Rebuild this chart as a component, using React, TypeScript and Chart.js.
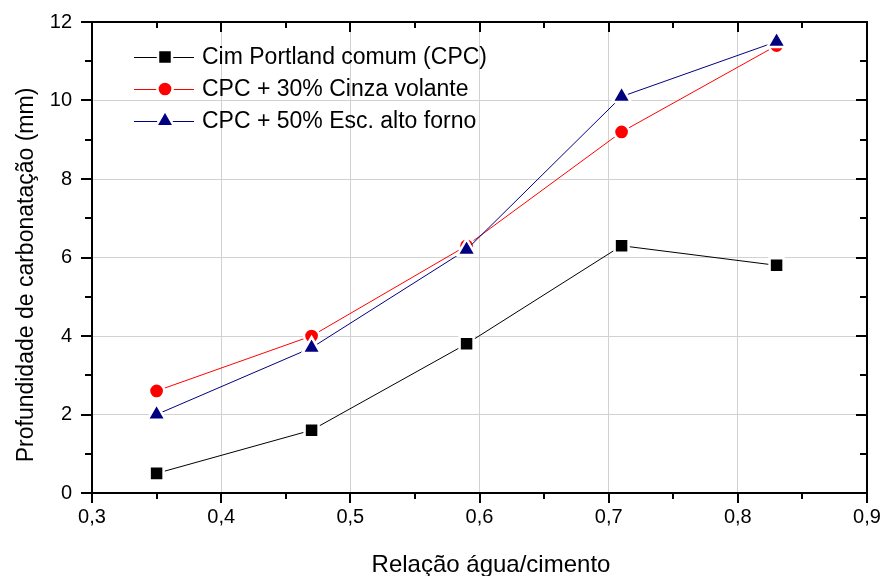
import React, { useEffect, useRef } from "react";
import { Chart, registerables } from "chart.js";

Chart.register(...registerables);

// ---- data ----
const xValues = [0.35, 0.47, 0.59, 0.71, 0.83];
const cpcValues = [0.5, 1.6, 3.8, 6.3, 5.8];
const cinzaValues = [2.6, 4.0, 6.3, 9.2, 11.4];
const escoriaValues = [2.0, 3.7, 6.2, 10.1, 11.5];
const seriesLabels = [
  "Cim Portland comum (CPC)",
  "CPC + 30% Cinza volante",
  "CPC + 50% Esc. alto forno",
];
const xTitle = "Relação água/cimento";
const yTitle = "Profundidade de carbonatação (mm)";
const xMin = 0.3;
const xMax = 0.9;
const xStep = 0.1;
const yMin = 0;
const yMax = 12;
const yStep = 2;

const FONT = '"Liberation Sans", Arial, Helvetica, sans-serif';

function drawMarker(
  ctx: CanvasRenderingContext2D,
  style: string,
  x: number,
  y: number,
  r: number,
  fill: string
) {
  ctx.save();
  ctx.beginPath();
  if (style === "rect") {
    const s = Math.SQRT1_2 * r;
    ctx.rect(x - s, y - s, 2 * s, 2 * s);
  } else if (style === "circle") {
    ctx.arc(x, y, r, 0, Math.PI * 2);
  } else {
    let a = 0;
    ctx.moveTo(x + Math.sin(a) * r, y - Math.cos(a) * r);
    a += (2 * Math.PI) / 3;
    ctx.lineTo(x + Math.sin(a) * r, y - Math.cos(a) * r);
    a += (2 * Math.PI) / 3;
    ctx.lineTo(x + Math.sin(a) * r, y - Math.cos(a) * r);
    ctx.closePath();
  }
  ctx.fillStyle = fill;
  ctx.fill();
  ctx.lineWidth = 2.5;
  ctx.strokeStyle = "#ffffff";
  ctx.stroke();
  ctx.restore();
}

const framePlugin = {
  id: "framePlugin",
  afterDraw(chart: any) {
    const { ctx, chartArea, scales } = chart;
    const { left, right, top, bottom } = chartArea;
    const xs = scales.x;
    const ys = scales.y;
    ctx.save();
    ctx.strokeStyle = "#000";
    ctx.lineWidth = 2;
    // x ticks (major + minor)
    const nx = Math.round((xMax - xMin) / (xStep / 2));
    for (let i = 0; i <= nx; i++) {
      const v = xMin + (i * xStep) / 2;
      const px = Math.round(xs.getPixelForValue(v));
      const major = i % 2 === 0;
      ctx.beginPath();
      ctx.moveTo(px, bottom);
      ctx.lineTo(px, bottom + (major ? 10 : 6));
      ctx.moveTo(px, top);
      ctx.lineTo(px, top + (major ? 10 : 6));
      ctx.stroke();
    }
    const ny = Math.round((yMax - yMin) / (yStep / 2));
    for (let i = 0; i <= ny; i++) {
      const v = yMin + (i * yStep) / 2;
      const py = Math.round(ys.getPixelForValue(v));
      const major = i % 2 === 0;
      ctx.beginPath();
      ctx.moveTo(left, py);
      ctx.lineTo(left - (major ? 11 : 7), py);
      ctx.moveTo(right, py);
      ctx.lineTo(right - (major ? 11 : 7), py);
      ctx.stroke();
    }
    ctx.strokeRect(left, top, right - left, bottom - top);

    // axis titles
    ctx.fillStyle = "#000";
    ctx.font = `24px ${FONT}`;
    ctx.textAlign = "center";
    ctx.textBaseline = "alphabetic";
    ctx.fillText(xTitle, 491, 572);
    ctx.save();
    ctx.translate(33, 275);
    ctx.rotate(-Math.PI / 2);
    ctx.font = `23px ${FONT}`;
    ctx.textBaseline = "alphabetic";
    ctx.fillText(yTitle, 0, 0);
    ctx.restore();

    // legend
    const ds = chart.data.datasets;
    ctx.font = `23px ${FONT}`;
    ctx.textAlign = "left";
    ctx.textBaseline = "middle";
    for (let i = 0; i < ds.length; i++) {
      const d = ds[i];
      const yy = top + 35 + i * 32;
      ctx.beginPath();
      ctx.strokeStyle = d.borderColor;
      ctx.lineWidth = 1;
      ctx.moveTo(left + 42, yy + 0.5);
      ctx.lineTo(left + 102, yy + 0.5);
      ctx.stroke();
      drawMarker(ctx, d.pointStyle, left + 73, yy, d.pointRadius, d.pointBackgroundColor);
      ctx.fillStyle = "#000";
      ctx.fillText(seriesLabels[i], left + 110, yy + 1);
    }
    ctx.restore();
  },
};

export default function App() {
  const canvasRef = useRef<HTMLCanvasElement | null>(null);

  useEffect(() => {
    if (!canvasRef.current) return;
    const mk = (vals: number[]) => xValues.map((x, i) => ({ x, y: vals[i] }));
    const chart = new Chart(canvasRef.current, {
      type: "scatter",
      data: {
        datasets: [
          {
            label: seriesLabels[0],
            data: mk(cpcValues),
            showLine: true,
            borderColor: "#000000",
            borderWidth: 1,
            pointStyle: "rect",
            pointRadius: 9.9,
            pointBackgroundColor: "#000000",
            pointBorderColor: "#ffffff",
            pointBorderWidth: 2.5,
            order: 2,
          },
          {
            label: seriesLabels[1],
            data: mk(cinzaValues),
            showLine: true,
            borderColor: "#ff0000",
            borderWidth: 1,
            pointStyle: "circle",
            pointRadius: 7.6,
            pointBackgroundColor: "#ff0000",
            pointBorderColor: "#ffffff",
            pointBorderWidth: 2.5,
            order: 1,
          },
          {
            label: seriesLabels[2],
            data: mk(escoriaValues),
            showLine: true,
            borderColor: "#000080",
            borderWidth: 1,
            pointStyle: "triangle",
            pointRadius: 10.6,
            pointBackgroundColor: "#000080",
            pointBorderColor: "#ffffff",
            pointBorderWidth: 2.5,
            order: 0,
          },
        ] as any,
      },
      options: {
        responsive: false,
        animation: false,
        events: [],
        layout: { padding: { top: 22, right: 17, left: 0, bottom: 0 } },
        plugins: {
          legend: { display: false },
          tooltip: { enabled: false },
        },
        scales: {
          x: {
            type: "linear",
            min: xMin,
            max: xMax,
            afterFit: (s: any) => {
              s.height = 83;
              s.paddingLeft = 0;
              s.paddingRight = 0;
            },
            ticks: {
              stepSize: xStep,
              color: "#000",
              padding: 12,
              font: { family: FONT, size: 20 },
              callback: (v: any) => Number(v).toFixed(1).replace(".", ","),
            },
            grid: { color: "#d2d2d2", lineWidth: 1, drawTicks: false },
            border: { display: true, color: "#000", width: 2 },
          },
          y: {
            type: "linear",
            min: yMin,
            max: yMax,
            afterFit: (s: any) => {
              s.width = 92;
              s.paddingTop = 0;
              s.paddingBottom = 0;
            },
            ticks: {
              stepSize: yStep,
              color: "#000",
              padding: 20,
              font: { family: FONT, size: 20 },
              callback: (v: any) => String(v),
            },
            grid: { color: "#d2d2d2", lineWidth: 1, drawTicks: false },
            border: { display: true, color: "#000", width: 2 },
          },
        },
      } as any,
      plugins: [framePlugin],
    });
    return () => chart.destroy();
  }, []);

  return (
    <div style={{ position: "absolute", left: 0, top: 0, width: 884, height: 576, background: "#fff" }}>
      <canvas ref={canvasRef} width={884} height={576} style={{ display: "block", width: 884, height: 576 }} />
    </div>
  );
}
